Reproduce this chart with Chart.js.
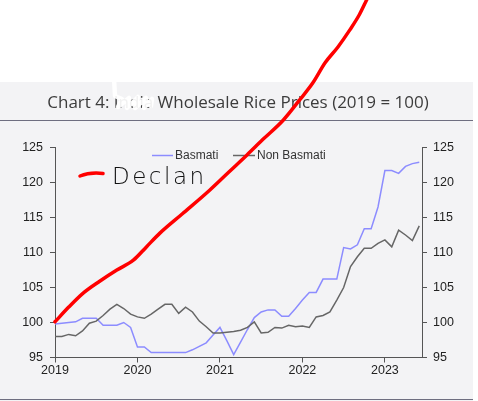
<!DOCTYPE html>
<html>
<head>
<meta charset="utf-8">
<script src="https://cdn.jsdelivr.net/npm/chart.js@4.4.0/dist/chart.umd.min.js"></script>
<style>
  html, body { margin: 0; padding: 0; background: #fff; }
  #wrap { position: relative; width: 478px; height: 401px; }
</style>
</head>
<body>
<div id="wrap"><canvas id="chart" aria-label="Chart 4: India Wholesale Rice Prices (2019 = 100)"></canvas></div>
<script>
// monthly index, Jan 2019 .. Jun 2023 (2019 = 100)
const basmati = [
  99.8, 99.9, 100.0, 100.1, 100.6, 100.6, 100.6, 99.6, 99.6, 99.6, 100.0, 99.3,
  96.5, 96.5, 95.7, 95.7, 95.7, 95.7, 95.7, 95.7, 96.1, 96.6, 97.1, 98.2,
  99.3, 97.4, 95.4, 97.2, 99.0, 100.7, 101.5, 101.8, 101.8, 100.9, 100.9, 102.0,
  103.2, 104.3, 104.3, 106.2, 106.2, 106.2, 110.7, 110.5, 111.1, 113.4, 113.4, 116.5,
  121.7, 121.7, 121.3, 122.3, 122.7, 122.9,
];
const nonBasmati = [
  98.0, 98.0, 98.3, 98.1, 98.8, 99.9, 100.2, 101.0, 101.9, 102.6, 102.0, 101.2,
  100.8, 100.6, 101.2, 101.9, 102.6, 102.6, 101.3, 102.2, 101.5, 100.2, 99.4, 98.5,
  98.5, 98.6, 98.7, 98.9, 99.3, 100.1, 98.5, 98.6, 99.3, 99.2, 99.6, 99.4,
  99.5, 99.3, 100.8, 101.0, 101.5, 103.2, 105.0, 108.0, 109.4, 110.6, 110.6, 111.3,
  111.8, 110.8, 113.2, 112.5, 111.7, 113.8,
];
const yearLabels = ["2019", "2020", "2021", "2022", "2023"];

// the hand-drawn red "Declan" line, read in (month, index) units
const declanMonths = [0, 2, 4.1, 6.5, 9.0, 11.4, 13.3, 15.3, 18.5, 22.5, 25.3, 27.9, 30.3, 33.2, 35.6, 37.5, 39.3, 41.2, 42.9, 44.3, 45.4];
const declanValues = [100.1, 102.2, 104.2, 105.9, 107.5, 108.9, 110.8, 112.8, 115.5, 118.9, 121.5, 123.9, 126.2, 128.9, 131.8, 134.2, 137.1, 139.4, 141.8, 144.0, 146.2];

const toPoints = (arr) => arr.map((v, i) => ({ x: i, y: v }));
const declanPoints = declanMonths.map((m, i) => ({ x: m, y: declanValues[i] }));

const AXIS = "#555";
const TICK_FONT = { family: "'Liberation Sans', Arial, sans-serif", size: 12.5 };

const frame = {
  id: "frame",
  beforeDraw(chart) {
    const ctx = chart.ctx;
    ctx.save();
    ctx.fillStyle = "#f3f3f5";
    ctx.fillRect(0, 82, 473, 319);

    ctx.strokeStyle = "#6e6e80";
    ctx.lineWidth = 1;
    ctx.beginPath();
    ctx.moveTo(0, 120.5); ctx.lineTo(473, 120.5);
    ctx.moveTo(0, 399.5); ctx.lineTo(473, 399.5);
    ctx.stroke();

    ctx.fillStyle = "#3c3c3c";
    ctx.font = "17px 'Open Sans', sans-serif";
    ctx.textAlign = "center";
    ctx.textBaseline = "middle";
    ctx.fillText("Chart 4: India Wholesale Rice Prices (2019 = 100)", 238, 103);

    // white scribble over the country name
    ctx.strokeStyle = "rgba(255,255,255,0.93)";
    ctx.lineWidth = 4.5;
    ctx.lineCap = "round";
    ctx.lineJoin = "round";
    ctx.beginPath();
    ctx.moveTo(114, 78); ctx.lineTo(115, 96);
    ctx.lineTo(122, 99); ctx.lineTo(118, 107); ctx.lineTo(129, 98);
    ctx.lineTo(127, 108); ctx.lineTo(138, 97); ctx.lineTo(135, 108);
    ctx.lineTo(146, 98); ctx.lineTo(144, 108); ctx.lineTo(152, 99);
    ctx.lineTo(151, 106);
    ctx.stroke();
    ctx.restore();
  },
  beforeDatasetsDraw(chart) {
    const ctx = chart.ctx;
    ctx.save();
    ctx.font = "12px 'Liberation Sans', Arial, sans-serif";
    ctx.textBaseline = "middle";
    ctx.fillStyle = "#333";
    ctx.lineWidth = 1.5;
    ctx.strokeStyle = "#8c8cff";
    ctx.beginPath(); ctx.moveTo(152, 155.5); ctx.lineTo(173, 155.5); ctx.stroke();
    ctx.fillText("Basmati", 175, 156);
    ctx.strokeStyle = "#666";
    ctx.beginPath(); ctx.moveTo(233, 155.5); ctx.lineTo(255, 155.5); ctx.stroke();
    ctx.fillText("Non Basmati", 257, 156);

    // hand-written label
    ctx.strokeStyle = "#ff0000";
    ctx.lineWidth = 3.5;
    ctx.lineCap = "round";
    ctx.beginPath();
    ctx.moveTo(80, 176); ctx.quadraticCurveTo(90, 172, 103, 173.5);
    ctx.stroke();
    ctx.fillStyle = "#111";
    ctx.font = "300 23px 'DejaVu Sans', sans-serif";
    ctx.textBaseline = "alphabetic";
    ctx.letterSpacing = "2.5px";
    ctx.fillText("Declan", 112, 184);
    ctx.restore();
  },
};

const yAxis = (position, width, pad) => ({
  type: "linear",
  display: true,
  position,
  min: 95,
  max: 125,
  ticks: { stepSize: 5, padding: pad, color: "#222", font: TICK_FONT },
  grid: { drawOnChartArea: false, tickLength: 5, color: AXIS },
  border: { color: AXIS, width: 1 },
  afterFit: (s) => { s.width = width; },
});

new Chart(document.getElementById("chart"), {
  type: "line",
  data: {
    datasets: [
      {
        label: "Declan",
        data: declanPoints,
        borderColor: "#ff0000",
        borderWidth: 3.5,
        borderCapStyle: "round",
        cubicInterpolationMode: "monotone",
        clip: false,
        pointRadius: 0,
        yAxisID: "y",
      },
      {
        label: "Non Basmati",
        data: toPoints(nonBasmati),
        borderColor: "#666666",
        borderWidth: 1.5,
        pointRadius: 0,
        tension: 0,
        yAxisID: "y",
      },
      {
        label: "Basmati",
        data: toPoints(basmati),
        borderColor: "#8c8cff",
        borderWidth: 1.5,
        pointRadius: 0,
        tension: 0,
        yAxisID: "y",
      },
    ],
  },
  options: {
    responsive: true,
    maintainAspectRatio: false,
    animation: false,
    layout: { padding: { top: 147.5, left: 0, right: 0, bottom: 0 } },
    plugins: { legend: { display: false }, tooltip: { enabled: false } },
    scales: {
      x: {
        type: "linear",
        min: 0,
        max: 53.4,
        afterBuildTicks: (s) => { s.ticks = yearLabels.map((_, i) => ({ value: i * 12 })); },
        ticks: {
          callback: (v) => yearLabels[Math.round(v / 12)],
          color: "#222",
          font: TICK_FONT,
          padding: 1,
          maxRotation: 0,
          autoSkip: false,
        },
        grid: { drawOnChartArea: false, tickLength: 5, color: AXIS },
        border: { color: AXIS, width: 1 },
        afterFit: (s) => { s.height = 43.5; },
      },
      y: yAxis("left", 55, 7),
      y2: yAxis("right", 56, 6),
    },
  },
  plugins: [frame],
});
</script>
</body>
</html>
